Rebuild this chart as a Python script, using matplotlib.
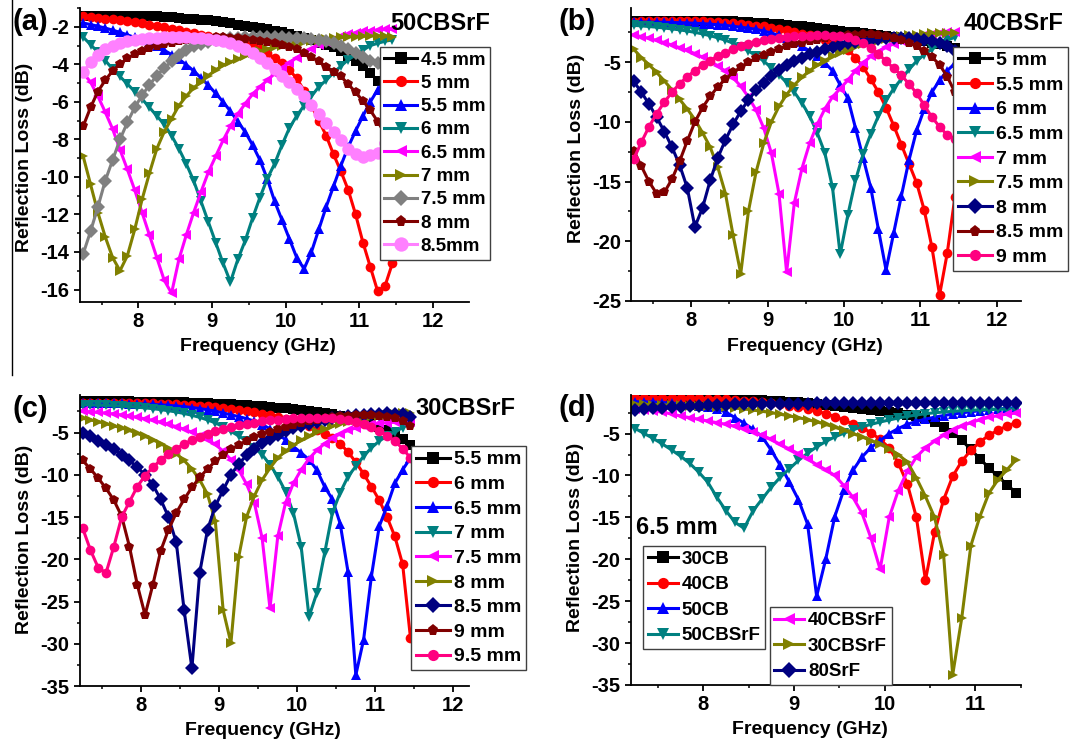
import matplotlib
matplotlib.use("Agg")
import matplotlib.pyplot as plt
from matplotlib.lines import Line2D
from matplotlib.ticker import MultipleLocator

plt.rcParams['font.family'] = ['Liberation Sans', 'DejaVu Sans']
plt.rcParams['font.weight'] = 'bold'
plt.rcParams['axes.labelweight'] = 'bold'
plt.rcParams['axes.unicode_minus'] = False

# frequency grid (GHz), shared by every curve
freq = [7.25, 7.35, 7.45, 7.55, 7.65, 7.75, 7.85, 7.95,
        8.05, 8.15, 8.25, 8.35, 8.45, 8.55, 8.65, 8.75, 8.85, 8.95,
        9.05, 9.15, 9.25, 9.35, 9.45, 9.55, 9.65, 9.75, 9.85, 9.95,
        10.05, 10.15, 10.25, 10.35, 10.45, 10.55, 10.65, 10.75, 10.85, 10.95,
        11.05, 11.15, 11.25, 11.35, 11.45]

# ---- (a) 50CBSrF, thickness 4.5 ... 8.5 mm
a_45 = [-1.40, -1.40, -1.40, -1.40, -1.40, -1.40, -1.40, -1.41,
        -1.42, -1.43, -1.45, -1.47, -1.50, -1.53, -1.56, -1.59, -1.62, -1.66,
        -1.70, -1.76, -1.82, -1.88, -1.94, -2.00, -2.07, -2.14, -2.21, -2.29,
        -2.40, -2.50, -2.60, -2.72, -2.85, -2.97, -3.10, -3.30, -3.55, -3.80,
        -4.10, -4.45, -4.90, -5.30, -5.70]
a_50 = [-1.45, -1.48, -1.52, -1.56, -1.60, -1.65, -1.70, -1.76,
        -1.82, -1.88, -1.95, -2.02, -2.10, -2.18, -2.26, -2.34, -2.42, -2.50,
        -2.57, -2.64, -2.72, -2.81, -2.91, -3.03, -3.20, -3.42, -3.67, -3.95,
        -4.30, -4.75, -5.40, -6.20, -7.00, -7.80, -8.80, -9.70, -10.7, -12.0,
        -13.5, -14.8, -16.1, -15.8, -14.6]
a_55 = [-1.80, -1.88, -1.97, -2.07, -2.18, -2.30, -2.43, -2.57,
        -2.72, -2.88, -3.05, -3.25, -3.48, -3.73, -4.02, -4.35, -4.72, -5.12,
        -5.55, -6.00, -6.50, -7.05, -7.60, -8.30, -9.10, -10.1, -11.3, -12.3,
        -13.3, -14.3, -14.9, -14.0, -12.8, -11.6, -10.5, -9.40, -8.40, -7.55,
        -6.75, -6.00, -5.35, -4.95, -4.60]
a_60 = [-2.55, -2.95, -3.35, -3.80, -4.25, -4.65, -5.05, -5.45,
        -5.85, -6.30, -6.75, -7.20, -7.80, -8.50, -9.30, -10.2, -11.3, -12.4,
        -13.5, -14.6, -15.6, -14.4, -13.4, -12.2, -11.1, -10.1, -9.30, -8.30,
        -7.40, -6.75, -6.20, -5.70, -5.20, -4.85, -4.45, -4.10, -3.75, -3.50,
        -3.25, -3.00, -2.88, -2.77, -2.70]
a_65 = [-4.45, -4.95, -5.70, -6.55, -7.45, -8.55, -9.60, -10.7,
        -11.9, -13.1, -14.3, -15.5, -16.2, -14.4, -13.1, -11.9, -10.8, -9.75,
        -8.90, -8.05, -7.30, -6.65, -6.10, -5.60, -5.20, -4.85, -4.50, -4.20,
        -3.92, -3.65, -3.40, -3.17, -2.98, -2.80, -2.63, -2.50, -2.40, -2.32,
        -2.25, -2.20, -2.17, -2.14, -2.12]
a_70 = [-8.90, -10.4, -11.9, -13.2, -14.3, -15.0, -14.2, -12.8,
        -11.2, -9.80, -8.50, -7.60, -6.90, -6.20, -5.70, -5.25, -4.95, -4.60,
        -4.30, -4.05, -3.88, -3.72, -3.56, -3.42, -3.30, -3.18, -3.08, -3.00,
        -2.93, -2.86, -2.80, -2.74, -2.69, -2.64, -2.60, -2.57, -2.54, -2.52,
        -2.50, -2.49, -2.49, -2.50, -2.52]
a_75 = [-14.1, -12.9, -11.6, -10.2, -9.10, -8.00, -7.10, -6.30,
        -5.65, -5.10, -4.60, -4.20, -3.85, -3.50, -3.25, -3.05, -2.92, -2.80,
        -2.72, -2.66, -2.62, -2.59, -2.57, -2.56, -2.56, -2.56, -2.56, -2.57,
        -2.58, -2.60, -2.62, -2.66, -2.70, -2.76, -2.85, -3.00, -3.20, -3.40,
        -3.60, -3.80, -3.95, -4.15, -4.35]
a_80 = [-7.30, -6.30, -5.45, -4.85, -4.35, -3.98, -3.68, -3.45,
        -3.27, -3.12, -3.00, -2.91, -2.84, -2.77, -2.71, -2.66, -2.62, -2.59,
        -2.57, -2.57, -2.58, -2.60, -2.63, -2.68, -2.74, -2.81, -2.88, -2.96,
        -3.06, -3.20, -3.38, -3.60, -3.85, -4.12, -4.40, -4.65, -5.05, -5.50,
        -5.95, -6.45, -7.05, -7.70, -8.30]
a_85 = [-4.40, -3.90, -3.50, -3.20, -3.00, -2.87, -2.77, -2.70,
        -2.65, -2.61, -2.58, -2.57, -2.56, -2.56, -2.57, -2.59, -2.62, -2.66,
        -2.71, -2.78, -2.88, -3.00, -3.17, -3.40, -3.65, -3.93, -4.25, -4.60,
        -4.95, -5.30, -5.70, -6.15, -6.65, -7.15, -7.60, -8.05, -8.50, -8.80,
        -8.95, -8.85, -8.70, -8.20, -7.80]

# ---- (b) 40CBSrF, thickness 5 ... 9 mm
b_50 = [-1.50, -1.50, -1.50, -1.50, -1.50, -1.50, -1.50, -1.50,
        -1.50, -1.51, -1.52, -1.53, -1.55, -1.57, -1.60, -1.63, -1.67, -1.71,
        -1.76, -1.81, -1.87, -1.93, -2.00, -2.07, -2.14, -2.21, -2.28, -2.35,
        -2.42, -2.49, -2.56, -2.63, -2.70, -2.78, -2.86, -2.95, -3.04, -3.14,
        -3.25, -3.37, -3.50, -3.64, -3.80]
b_55 = [-1.60, -1.58, -1.56, -1.55, -1.54, -1.54, -1.54, -1.55,
        -1.56, -1.58, -1.60, -1.63, -1.67, -1.72, -1.78, -1.85, -1.92, -2.00,
        -2.10, -2.20, -2.32, -2.45, -2.60, -2.75, -2.92, -3.10, -3.30, -3.55,
        -3.95, -4.60, -5.40, -6.40, -7.50, -8.80, -10.3, -11.9, -13.5, -15.1,
        -17.4, -20.5, -24.5, -21.0, -16.3]
b_60 = [-1.63, -1.63, -1.63, -1.64, -1.65, -1.66, -1.68, -1.70,
        -1.73, -1.76, -1.80, -1.85, -1.91, -1.98, -2.06, -2.14, -2.24, -2.38,
        -2.55, -2.75, -3.00, -3.30, -3.65, -4.05, -4.50, -5.05, -5.70, -6.90,
        -8.00, -10.5, -13.0, -15.5, -19.0, -22.4, -19.3, -16.2, -13.2, -10.7,
        -8.90, -7.50, -6.50, -5.70, -5.10]
b_65 = [-1.90, -1.95, -2.00, -2.06, -2.13, -2.20, -2.28, -2.38,
        -2.49, -2.62, -2.77, -2.95, -3.15, -3.40, -3.70, -4.05, -4.45, -4.90,
        -5.45, -6.05, -6.70, -7.50, -8.40, -9.50, -10.9, -12.6, -15.5, -21.1,
        -17.8, -14.9, -12.7, -11.0, -9.50, -8.20, -7.20, -6.40, -5.60, -4.90,
        -4.35, -3.90, -3.50, -3.15, -2.90]
b_70 = [-2.70, -2.85, -3.00, -3.17, -3.35, -3.55, -3.77, -4.00,
        -4.27, -4.57, -4.90, -5.30, -5.75, -6.30, -7.00, -7.90, -9.00, -10.5,
        -12.6, -16.0, -22.6, -16.8, -13.9, -11.8, -10.2, -8.90, -7.90, -7.20,
        -6.50, -5.70, -5.05, -4.50, -4.10, -3.75, -3.45, -3.20, -3.00, -2.85,
        -2.72, -2.62, -2.54, -2.48, -2.43]
b_75 = [-3.90, -4.60, -5.20, -5.85, -6.55, -7.30, -8.10, -8.90,
        -9.80, -10.9, -12.1, -13.8, -16.0, -19.5, -22.7, -17.5, -14.2, -11.8,
        -10.0, -8.70, -7.70, -6.90, -6.25, -5.70, -5.25, -4.85, -4.50, -4.20,
        -3.93, -3.70, -3.50, -3.33, -3.18, -3.05, -2.93, -2.83, -2.75, -2.68,
        -2.62, -2.58, -2.55, -2.54, -2.54]
b_80 = [-6.60, -7.50, -8.50, -9.60, -10.8, -12.1, -13.6, -15.5,
        -18.8, -17.2, -14.9, -13.0, -11.5, -10.2, -9.10, -8.15, -7.35, -6.70,
        -6.15, -5.65, -5.25, -4.90, -4.60, -4.33, -4.10, -3.90, -3.72, -3.56,
        -3.42, -3.30, -3.20, -3.12, -3.05, -3.00, -2.98, -2.98, -3.00, -3.05,
        -3.12, -3.22, -3.40, -3.65, -4.05]
b_85 = [-12.4, -13.7, -15.0, -16.0, -15.9, -14.8, -13.3, -11.6,
        -10.0, -8.80, -7.85, -7.05, -6.40, -5.85, -5.40, -5.00, -4.65, -4.35,
        -4.10, -3.87, -3.67, -3.50, -3.35, -3.22, -3.10, -3.00, -2.90, -2.82,
        -2.75, -2.70, -2.67, -2.66, -2.68, -2.78, -2.95, -3.15, -3.35, -3.65,
        -4.05, -4.55, -5.20, -6.20, -7.50]
b_90 = [-13.1, -11.7, -10.4, -9.30, -8.35, -7.50, -6.80, -6.20,
        -5.70, -5.25, -4.85, -4.50, -4.18, -3.90, -3.65, -3.45, -3.28, -3.14,
        -3.02, -2.93, -2.86, -2.81, -2.78, -2.76, -2.75, -2.75, -2.76, -2.80,
        -2.90, -3.10, -3.40, -3.80, -4.30, -4.90, -5.50, -6.10, -6.80, -7.60,
        -8.60, -9.60, -10.4, -11.1, -11.4]

# ---- (c) 30CBSrF, thickness 5.5 ... 9.5 mm
c_55 = [-1.30, -1.30, -1.30, -1.30, -1.30, -1.30, -1.31, -1.32,
        -1.33, -1.34, -1.36, -1.38, -1.40, -1.43, -1.46, -1.49, -1.53, -1.57,
        -1.61, -1.66, -1.71, -1.77, -1.83, -1.90, -1.97, -2.05, -2.13, -2.22,
        -2.32, -2.43, -2.55, -2.68, -2.83, -3.00, -3.20, -3.43, -3.70, -4.00,
        -4.35, -4.75, -5.25, -5.80, -6.50]
c_60 = [-1.50, -1.50, -1.50, -1.50, -1.50, -1.50, -1.51, -1.52,
        -1.53, -1.55, -1.57, -1.60, -1.64, -1.69, -1.75, -1.82, -1.90, -1.99,
        -2.09, -2.20, -2.32, -2.45, -2.60, -2.76, -2.94, -3.14, -3.37, -3.63,
        -3.93, -4.27, -4.67, -5.13, -5.67, -6.30, -7.30, -8.50, -9.90, -11.4,
        -13.0, -15.0, -17.3, -20.6, -29.3]
c_65 = [-1.50, -1.50, -1.51, -1.52, -1.53, -1.55, -1.57, -1.60,
        -1.63, -1.67, -1.72, -1.78, -1.85, -1.93, -2.03, -2.15, -2.30, -2.47,
        -2.67, -2.90, -3.10, -3.35, -3.65, -4.05, -4.55, -5.15, -5.85, -6.65,
        -7.40, -8.20, -9.40, -11.4, -12.9, -15.8, -21.5, -33.7, -29.5, -22.0,
        -16.1, -13.7, -11.0, -9.40, -8.00]
c_70 = [-1.70, -1.72, -1.75, -1.78, -1.82, -1.87, -1.93, -2.00,
        -2.08, -2.17, -2.28, -2.41, -2.56, -2.74, -2.95, -3.20, -3.50, -3.85,
        -4.30, -4.85, -5.40, -6.00, -6.80, -7.60, -8.80, -10.2, -12.0, -14.5,
        -18.5, -26.8, -24.0, -19.3, -14.5, -12.1, -10.2, -9.00, -7.80, -6.80,
        -6.00, -5.40, -4.95, -4.40, -3.85]
c_75 = [-2.50, -2.55, -2.62, -2.70, -2.80, -2.92, -3.05, -3.20,
        -3.37, -3.56, -3.78, -4.03, -4.30, -4.60, -4.95, -5.40, -5.85, -6.40,
        -7.20, -8.20, -9.40, -11.1, -13.3, -17.5, -25.8, -17.3, -13.3, -11.0,
        -9.40, -8.10, -7.10, -6.30, -5.65, -5.15, -4.75, -4.45, -4.20, -4.02,
        -3.90, -3.82, -3.78, -3.77, -3.78]
c_80 = [-3.30, -3.50, -3.70, -3.95, -4.20, -4.45, -4.75, -5.10,
        -5.45, -5.85, -6.30, -6.85, -7.50, -8.30, -9.30, -10.6, -12.3, -15.5,
        -26.0, -29.9, -19.7, -15.0, -12.5, -10.6, -9.20, -8.00, -7.20, -6.50,
        -5.90, -5.40, -4.95, -4.60, -4.25, -3.95, -3.70, -3.48, -3.30, -3.15,
        -3.02, -2.90, -2.80, -2.72, -2.67]
c_85 = [-5.00, -5.45, -5.95, -6.45, -7.00, -7.60, -8.30, -9.10,
        -10.0, -11.2, -12.9, -15.0, -18.0, -26.0, -32.9, -21.6, -16.5, -13.7,
        -11.8, -10.0, -8.70, -7.70, -6.90, -6.25, -5.70, -5.25, -4.85, -4.50,
        -4.20, -3.93, -3.70, -3.50, -3.33, -3.18, -3.05, -2.95, -2.87, -2.80,
        -2.75, -2.73, -2.75, -2.85, -3.20]
c_90 = [-8.30, -9.30, -10.4, -11.6, -13.0, -14.9, -18.5, -23.0,
        -26.6, -23.0, -19.0, -16.5, -14.5, -12.9, -11.5, -10.3, -9.30, -8.40,
        -7.65, -7.00, -6.45, -5.95, -5.55, -5.20, -4.90, -4.60, -4.35, -4.10,
        -3.88, -3.68, -3.50, -3.33, -3.20, -3.08, -3.00, -2.95, -2.93, -2.95,
        -3.00, -3.10, -3.30, -3.65, -4.20]
c_95 = [-16.3, -18.9, -21.0, -21.6, -18.5, -15.0, -13.2, -11.4,
        -10.1, -9.10, -8.25, -7.55, -6.90, -6.35, -5.90, -5.50, -5.15, -4.85,
        -4.58, -4.35, -4.15, -3.97, -3.82, -3.68, -3.56, -3.46, -3.38, -3.32,
        -3.28, -3.26, -3.26, -3.28, -3.33, -3.42, -3.55, -3.75, -4.00, -4.35,
        -4.80, -5.35, -6.00, -6.90, -8.00]

# ---- (d) all samples at 6.5 mm
d_30cb = [-0.75, -0.75, -0.75, -0.75, -0.75, -0.76, -0.77, -0.78,
          -0.80, -0.82, -0.85, -0.88, -0.92, -0.96, -1.01, -1.07, -1.13, -1.20,
          -1.28, -1.37, -1.46, -1.56, -1.67, -1.78, -1.90, -2.02, -2.15, -2.28,
          -2.42, -2.57, -2.73, -2.92, -3.15, -3.60, -4.20, -4.90, -5.80, -6.90,
          -8.00, -9.10, -10.1, -11.1, -12.1]
d_40cb = [-0.70, -0.70, -0.70, -0.71, -0.72, -0.74, -0.77, -0.80,
          -0.84, -0.88, -0.93, -0.99, -1.06, -1.14, -1.24, -1.36, -1.50, -1.66,
          -1.85, -2.07, -2.33, -2.63, -2.98, -3.40, -3.85, -4.30, -4.90, -5.70,
          -6.70, -8.50, -11.0, -15.0, -22.5, -16.8, -12.9, -10.1, -8.30, -7.00,
          -6.00, -5.20, -4.60, -4.10, -3.70]
d_50cb = [-1.20, -1.22, -1.25, -1.30, -1.36, -1.44, -1.54, -1.67,
          -1.83, -2.05, -2.45, -3.10, -3.75, -4.50, -5.40, -7.00, -8.80, -10.8,
          -12.9, -15.8, -24.4, -20.0, -14.9, -11.7, -9.40, -7.80, -6.65, -5.85,
          -5.00, -4.40, -3.90, -3.55, -3.28, -3.05, -2.85, -2.68, -2.53, -2.40,
          -2.28, -2.17, -2.07, -1.98, -1.90]
d_50cbsrf = [-4.40, -5.00, -5.60, -6.25, -6.95, -7.70, -8.55, -9.60,
             -10.8, -12.6, -14.2, -15.6, -16.3, -14.2, -12.8, -11.4, -10.2, -9.20,
             -8.20, -7.35, -6.60, -5.95, -5.40, -4.95, -4.55, -4.20, -3.90, -3.62,
             -3.38, -3.15, -2.95, -2.78, -2.63, -2.52, -2.43, -2.35, -2.28, -2.22,
             -2.17, -2.13, -2.10, -2.08, -2.06]
d_40cbsrf = [-2.10, -2.20, -2.30, -2.45, -2.65, -2.90, -3.10, -3.30,
             -3.50, -3.70, -3.90, -4.15, -4.45, -4.80, -5.20, -5.70, -6.30, -6.85,
             -7.40, -8.00, -8.70, -9.30, -10.0, -11.2, -12.6, -14.5, -17.5, -21.2,
             -15.0, -11.8, -9.50, -7.80, -6.70, -5.90, -5.20, -4.60, -4.10, -3.70,
             -3.35, -3.07, -2.85, -2.68, -2.55]
d_30cbsrf = [-1.50, -1.52, -1.55, -1.58, -1.61, -1.64, -1.68, -1.72,
             -1.76, -1.80, -1.88, -1.96, -2.06, -2.20, -2.35, -2.50, -2.70, -2.90,
             -3.10, -3.35, -3.60, -3.90, -4.25, -4.60, -5.00, -5.40, -5.85, -6.30,
             -6.80, -7.50, -8.40, -10.3, -12.5, -15.0, -19.5, -33.8, -27.0, -18.4,
             -14.9, -12.1, -10.5, -9.30, -8.10]
d_80srf = [-2.20, -2.10, -2.00, -1.92, -1.85, -1.78, -1.72, -1.67,
           -1.62, -1.58, -1.55, -1.52, -1.50, -1.48, -1.46, -1.45, -1.44, -1.43,
           -1.42, -1.42, -1.41, -1.41, -1.40, -1.40, -1.40, -1.40, -1.40, -1.40,
           -1.40, -1.40, -1.40, -1.40, -1.40, -1.40, -1.40, -1.40, -1.40, -1.40,
           -1.40, -1.40, -1.40, -1.40, -1.40]

labels_a = ['4.5 mm', '5 mm', '5.5 mm', '6 mm', '6.5 mm', '7 mm', '7.5 mm', '8 mm', '8.5mm']
labels_b = ['5 mm', '5.5 mm', '6 mm', '6.5 mm', '7 mm', '7.5 mm', '8 mm', '8.5 mm', '9 mm']
labels_c = ['5.5 mm', '6 mm', '6.5 mm', '7 mm', '7.5 mm', '8 mm', '8.5 mm', '9 mm', '9.5 mm']
labels_d = ['30CB', '40CB', '50CB', '50CBSrF', '40CBSrF', '30CBSrF', '80SrF']

BLACK, RED, BLUE, TEAL = '#000000', '#ff0000', '#0000ff', '#008080'
MAGENTA, OLIVE, GRAY, WINE = '#ff00ff', '#808000', '#808080', '#800000'
NAVY, VIOLET, DPINK = '#000080', '#ff80ff', '#ff0080'

W, H = 1071, 742
fig = plt.figure(figsize=(W / 100, H / 100), dpi=100)


def make_axes(l, r, t, b):
    return fig.add_axes([l / W, 1 - b / H, (r - l) / W, (b - t) / H])


def style(ax, xlim, ylim, ymaj):
    ax.set_xlim(*xlim)
    ax.set_ylim(*ylim)
    ax.xaxis.set_major_locator(MultipleLocator(1))
    ax.xaxis.set_minor_locator(MultipleLocator(0.5))
    ax.yaxis.set_major_locator(MultipleLocator(ymaj))
    ax.yaxis.set_minor_locator(MultipleLocator(ymaj / 2))
    for s in ['top', 'right']:
        ax.spines[s].set_visible(False)
    for s in ['left', 'bottom']:
        ax.spines[s].set_linewidth(1.3)
    ax.tick_params(which='major', direction='out', length=4.5, width=1.3, labelsize=14.5, pad=3)
    ax.tick_params(which='minor', direction='out', length=2.5, width=1.1)
    for t in ax.get_xticklabels() + ax.get_yticklabels():
        t.set_fontweight('bold')
    ax.set_xlabel('Frequency (GHz)', fontsize=14, fontweight='bold')
    ax.set_ylabel('Reflection Loss (dB)', fontsize=14, fontweight='bold')


def draw(ax, series, colors, markers, labels, sizes=None):
    handles = []
    for i, (y, c, m, lab) in enumerate(zip(series, colors, markers, labels)):
        ms = sizes[i] if sizes else 7
        h, = ax.plot(freq, y, color=c, marker=m, markersize=ms, markeredgewidth=0,
                     linewidth=2.2, label=lab)
        handles.append(h)
    return handles


def legend(ax, handles, anchor, size, spacing, loc='upper right', hlen=1.75):
    leg = ax.legend(handles=handles, loc=loc, bbox_to_anchor=anchor,
                    bbox_transform=fig.transFigure, frameon=True, fancybox=False,
                    edgecolor='#404040', framealpha=1, borderaxespad=0, borderpad=0.25,
                    labelspacing=spacing, handlelength=hlen, handletextpad=0.2,
                    markerscale=1.15, prop={'size': size, 'weight': 'bold'})
    leg.get_frame().set_linewidth(1.0)
    return leg


mk9 = ['s', 'o', '^', 'v', '<', '>', 'D', 'p', 'o']

# (a)
ax = make_axes(79.5, 469, 8, 301.7)
style(ax, (7.2, 12.49), (-16.65, -1.0), 2)
hs = draw(ax, [a_45, a_50, a_55, a_60, a_65, a_70, a_75, a_80, a_85],
          [BLACK, RED, BLUE, TEAL, MAGENTA, OLIVE, GRAY, WINE, VIOLET], mk9, labels_a,
          sizes=[7] * 8 + [9])
legend(ax, hs, (490 / W, 1 - 46.7 / H), 13.5, 0.33)
ax.yaxis.set_label_coords(-0.119, 0.49)
ax.xaxis.set_label_coords(0.458, -0.125)

# (b)
ax = make_axes(631.4, 1021.4, 8, 301)
style(ax, (7.22, 12.32), (-25, -0.45), 5)
hs = draw(ax, [b_50, b_55, b_60, b_65, b_70, b_75, b_80, b_85, b_90],
          [BLACK, RED, BLUE, TEAL, MAGENTA, OLIVE, NAVY, WINE, DPINK], mk9, labels_b)
legend(ax, hs, (1068 / W, 1 - 46.7 / H), 14, 0.36)
ax.yaxis.set_label_coords(-0.119, 0.52)
ax.xaxis.set_label_coords(0.445, -0.125)

# (c)
ax = make_axes(79.5, 469, 395, 686)
style(ax, (7.21, 12.2), (-35, -0.55), 5)
hs = draw(ax, [c_55, c_60, c_65, c_70, c_75, c_80, c_85, c_90, c_95],
          [BLACK, RED, BLUE, TEAL, MAGENTA, OLIVE, NAVY, WINE, DPINK], mk9, labels_c)
legend(ax, hs, (525.8 / W, 1 - 446 / H), 14, 0.36)
ax.yaxis.set_label_coords(-0.119, 0.505)
ax.xaxis.set_label_coords(0.4715, -0.125)

# (d)
ax = make_axes(630.7, 1020.7, 395, 685)
style(ax, (7.2, 11.5), (-35, -0.4), 5)
hs = draw(ax, [d_30cb, d_40cb, d_50cb, d_50cbsrf, d_40cbsrf, d_30cbsrf, d_80srf],
          [BLACK, RED, BLUE, TEAL, MAGENTA, OLIVE, NAVY],
          ['s', 'o', '^', 'v', '<', '>', 'D'], labels_d)
leg1 = legend(ax, hs[:4], (643 / W, 1 - 546 / H), 13.5, 0.45, loc='upper left', hlen=1.6)
ax.add_artist(leg1)
legend(ax, hs[4:], (769.5 / W, 1 - 607.3 / H), 13.5, 0.45, loc='upper left', hlen=1.6)
ax.yaxis.set_label_coords(-0.119, 0.51)
ax.xaxis.set_label_coords(0.46, -0.125)

# panel tags and sample names
for x, y, s in [(12, 21.7, '(a)'), (559, 21.7, '(b)'), (12, 409, '(c)'), (559, 407.5, '(d)')]:
    fig.text(x / W, 1 - y / H, s, fontsize=21, fontweight='bold', ha='left', va='center')
for x, y, s in [(490, 23.3, '50CBSrF'), (1064, 23.3, '40CBSrF'), (515.5, 408.3, '30CBSrF')]:
    fig.text(x / W, 1 - y / H, s, fontsize=17, fontweight='bold', ha='right', va='center')
fig.text(636.5 / W, 1 - 527.5 / H, '6.5 mm', fontsize=17, fontweight='bold', ha='left', va='center')

# thin stray rule along the left edge of the upper half
fig.add_artist(Line2D([12.4 / W, 12.4 / W], [1, 1 - 375 / H], transform=fig.transFigure,
                      color='black', linewidth=1.0))

fig.savefig('out.png', dpi=100)
